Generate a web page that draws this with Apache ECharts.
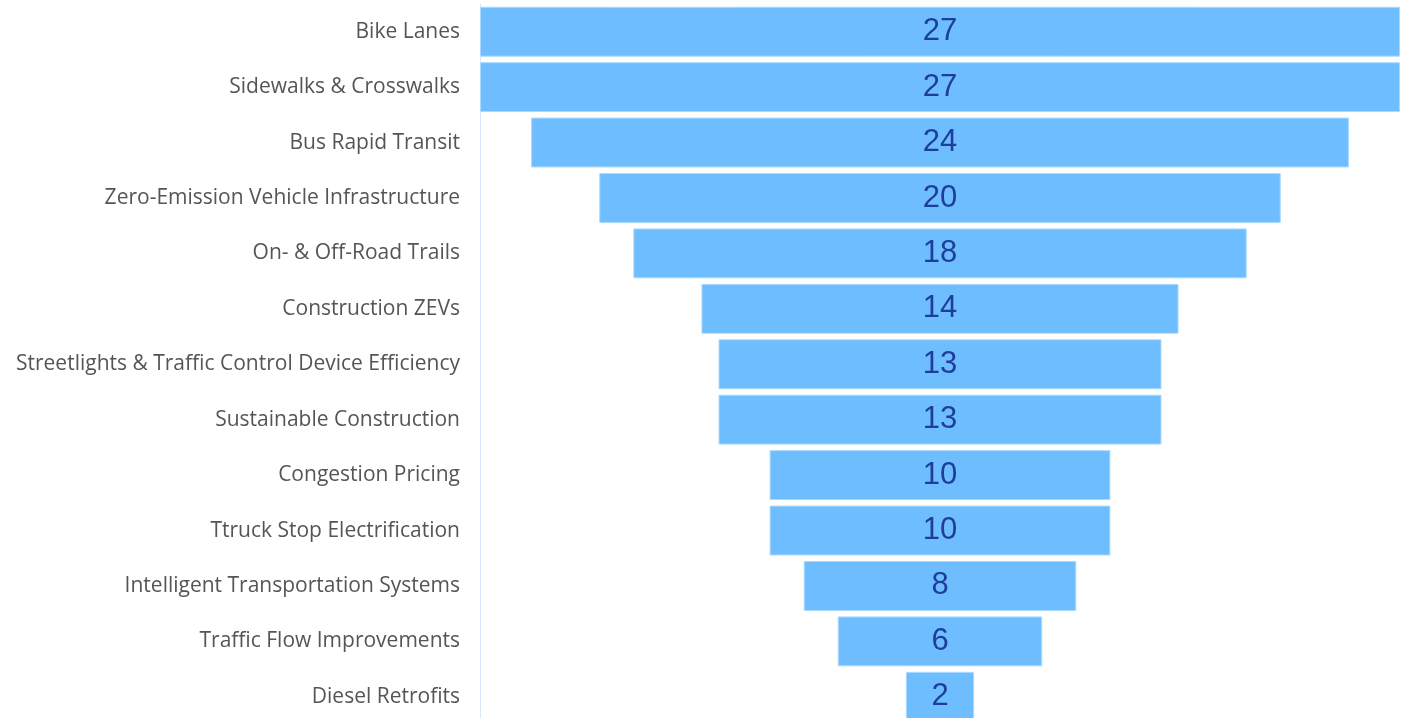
<!DOCTYPE html>
<html>
<head>
<meta charset="utf-8">
<script src="https://cdn.jsdelivr.net/npm/echarts@6/dist/echarts.min.js"></script>
<style>html,body{margin:0;padding:0;background:#fff;overflow:hidden;}#c{width:1411px;height:740px;}</style>
</head>
<body>
<div id="c"></div>
<script>
const categories = ["Bike Lanes","Sidewalks & Crosswalks","Bus Rapid Transit","Zero-Emission Vehicle Infrastructure","On- & Off-Road Trails","Construction ZEVs","Streetlights & Traffic Control Device Efficiency","Sustainable Construction","Congestion Pricing","Ttruck Stop Electrification","Intelligent Transportation Systems","Traffic Flow Improvements","Diesel Retrofits"];
const values = [27,27,24,20,18,14,13,13,10,10,8,6,2];
const maxValue = 27;
const offsets = values.map(v => (maxValue - v) / 2);

const chart = echarts.init(document.getElementById('c'), null, {renderer:'canvas'});
chart.setOption({
  animation:false,
  grid:{left:480, right:11, top:4, height:720.5, containLabel:false},
  xAxis:{type:'value', min:0, max:maxValue, show:false},
  yAxis:{type:'category', data:categories, inverse:true,
    axisLine:{show:true, lineStyle:{color:'#d6eaff', width:1}},
    axisTick:{show:false},
    axisLabel:{color:'#555', fontFamily:'Open Sans', fontSize:21, margin:20, padding:[4,0,0,0]}
  },
  series:[
    {type:'bar', stack:'f', data:offsets, itemStyle:{color:'transparent'}, barCategoryGap:'10%', silent:true},
    {type:'bar', stack:'f', data:values, barCategoryGap:'10%',
      itemStyle:{color:'#6ebeff', borderColor:'#a9d9ff', borderWidth:1},
      label:{show:true, position:'inside', color:'#1f3e9c', fontFamily:'Liberation Sans', fontSize:31, offset:[0,0]}
    }
  ]
});
</script>
</body>
</html>
